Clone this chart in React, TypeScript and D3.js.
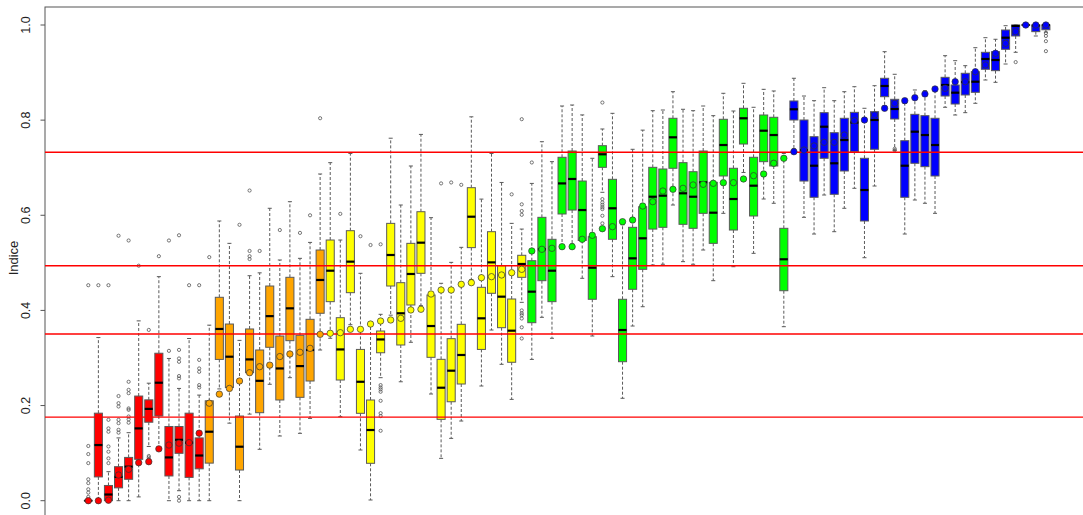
import React from "react";
import * as d3 from "d3";

// ---- data ----
const whiskerLow = [
  0, 0, 0, 0, 0, 0.008, 0.114, 0.11, 0, 0.021, 0, 0, 0, 0.235, 0.163, 0, 0.182, 0.108, 0.2447, 0.136,
  0.2586, 0.1416, 0.173, 0.3168, 0.3414, 0.1766, 0.37, 0.1066, 0.0015, 0.2586, 0.39, 0.25, 0.333, 0.41, 0.2243, 0.089, 0.131, 0.1675, 0.465, 0.2411,
  0.3588, 0.2867, 0.213, 0.417, 0.297, 0.3855, 0.3414, 0.53, 0.54, 0.4675, 0.3462, 0.6483, 0.471, 0.2153, 0.3672, 0.4078, 0.4955, 0.497, 0.6216, 0.5025,
  0.497, 0.527, 0.4625, 0.6041, 0.4919, 0.69, 0.52, 0.6342, 0.6252, 0.3658, 0.74, 0.5957, 0.5606, 0.6426, 0.5655, 0.6147, 0.6567, 0.5108, 0.6615, 0.83,
  0.7358, 0.5606, 0.6321, 0.6252, 0.6041, 0.827, 0.8108, 0.8157, 0.8354, 0.8844, 0.8795, 0.918, 0.9426, 1, 0.9769, 0.985,
];
const q1 = [
  0, 0.05, 0, 0.027, 0.045, 0.087, 0.165, 0.178, 0.052, 0.0996, 0.049, 0.067, 0.079, 0.297, 0.238, 0.0645, 0.269, 0.185, 0.3225, 0.2117,
  0.3364, 0.2173, 0.2516, 0.394, 0.4184, 0.2537, 0.4373, 0.1837, 0.0786, 0.311, 0.4513, 0.3273, 0.4114, 0.478, 0.3014, 0.171, 0.208, 0.2453, 0.532, 0.318,
  0.436, 0.3637, 0.291, 0.4696, 0.3742, 0.4625, 0.4184, 0.6027, 0.611, 0.547, 0.4234, 0.7008, 0.5495, 0.2922, 0.4444, 0.4864, 0.571, 0.5747, 0.6988, 0.581,
  0.5726, 0.6041, 0.541, 0.6826, 0.569, 0.7498, 0.5985, 0.7127, 0.7036, 0.4414, 0.8003, 0.672, 0.6378, 0.7198, 0.6441, 0.6931, 0.7337, 0.588, 0.7387, 0.8493,
  0.8024, 0.6378, 0.7093, 0.7022, 0.6826, 0.8507, 0.8339, 0.8529, 0.8585, 0.9069, 0.904, 0.9489, 0.9769, 1, 0.986, 0.99,
];
const median = [
  0, 0.117, 0.013, 0.05, 0.0715, 0.152, 0.193, 0.248, 0.091, 0.128, 0.122, 0.095, 0.145, 0.361, 0.3027, 0.1135, 0.297, 0.252, 0.388, 0.278,
  0.4044, 0.283, 0.3168, 0.464, 0.4835, 0.318, 0.5025, 0.25, 0.1486, 0.339, 0.5165, 0.394, 0.4766, 0.5424, 0.3672, 0.2375, 0.2733, 0.3063, 0.597, 0.3834,
  0.501, 0.4289, 0.3574, 0.4976, 0.4394, 0.5285, 0.4835, 0.667, 0.6763, 0.611, 0.4898, 0.7282, 0.6147, 0.3588, 0.5095, 0.5516, 0.639, 0.6412, 0.7639, 0.6462,
  0.639, 0.6693, 0.6054, 0.7477, 0.6342, 0.8039, 0.6622, 0.7778, 0.7687, 0.5075, 0.8228, 0.737, 0.7042, 0.7862, 0.7093, 0.7582, 0.795, 0.6531, 0.8003, 0.8718,
  0.8234, 0.7042, 0.7757, 0.7687, 0.7477, 0.8739, 0.8577, 0.88, 0.8808, 0.9285, 0.9264, 0.9733, 0.998, 1, 0.999, 1,
];
const q3 = [
  0, 0.184, 0.032, 0.0715, 0.091, 0.22, 0.212, 0.31, 0.156, 0.156, 0.184, 0.132, 0.21, 0.4276, 0.3714, 0.178, 0.361, 0.3168, 0.4513, 0.3462,
  0.4696, 0.3477, 0.3813, 0.527, 0.548, 0.3847, 0.5676, 0.318, 0.2117, 0.3567, 0.583, 0.4583, 0.541, 0.6075, 0.4324, 0.2972, 0.3406, 0.3708, 0.658, 0.4486,
  0.5655, 0.494, 0.424, 0.5159, 0.5045, 0.5957, 0.5495, 0.7219, 0.7351, 0.672, 0.555, 0.7463, 0.6756, 0.4234, 0.5747, 0.618, 0.7008, 0.6973, 0.8039, 0.7106,
  0.6916, 0.7351, 0.6693, 0.8018, 0.6988, 0.8249, 0.7219, 0.8108, 0.806, 0.5726, 0.8403, 0.8003, 0.7652, 0.8157, 0.7736, 0.8039, 0.8164, 0.7198, 0.8178, 0.888,
  0.8438, 0.7568, 0.8122, 0.8094, 0.8039, 0.89, 0.8739, 0.8985, 0.9018, 0.9426, 0.9439, 0.9895, 1, 1, 1, 1,
];
const whiskerHigh = [
  0, 0.343, 0.061, 0.132, 0.143, 0.378, 0.247, 0.471, 0.299, 0.236, 0.341, 0.222, 0.369, 0.588, 0.541, 0.337, 0.473, 0.479, 0.6147, 0.506,
  0.6286, 0.5095, 0.543, 0.6868, 0.7106, 0.548, 0.73, 0.478, 0.37, 0.3918, 0.762, 0.6216, 0.7036, 0.77, 0.595, 0.457, 0.501, 0.5326, 0.807, 0.634,
  0.73, 0.669, 0.583, 0.571, 0.667, 0.7547, 0.7127, 0.8297, 0.8318, 0.811, 0.7198, 0.7814, 0.8143, 0.58, 0.7387, 0.779, 0.8199, 0.8213, 0.8598, 0.8228,
  0.8199, 0.8297, 0.8094, 0.8564, 0.8192, 0.8774, 0.827, 0.8648, 0.8613, 0.73, 0.888, 0.8507, 0.8409, 0.8682, 0.8409, 0.8598, 0.8703, 0.8249, 0.8724, 0.9439,
  0.8964, 0.835, 0.8634, 0.862, 0.86, 0.9355, 0.925, 0.9145, 0.9523, 0.9733, 0.97, 0.9985, 1, 1, 1, 1,
];
// index value of each unit (the sorted dots)
const indexValues = [
  0, 0, 0.001, 0.054, 0.066, 0.08, 0.082, 0.109, 0.117, 0.121, 0.122, 0.142, 0.205, 0.224, 0.236, 0.2516, 0.269, 0.2817, 0.285, 0.303,
  0.3084, 0.312, 0.3203, 0.3497, 0.3519, 0.3532, 0.3603, 0.3603, 0.3714, 0.3777, 0.3799, 0.3834, 0.401, 0.4024, 0.4345, 0.4429, 0.4429, 0.4549, 0.4583, 0.4688,
  0.4709, 0.4745, 0.4793, 0.4864, 0.525, 0.5285, 0.5306, 0.534, 0.534, 0.5495, 0.5579, 0.5718, 0.576, 0.5865, 0.59, 0.6195, 0.6286, 0.651, 0.6546, 0.6567,
  0.6637, 0.6651, 0.6672, 0.6685, 0.6685, 0.6763, 0.6832, 0.6868, 0.7093, 0.7198, 0.7337, 0.7372, 0.7457, 0.7534, 0.7534, 0.7687, 0.7989, 0.8003, 0.8108, 0.8249,
  0.8354, 0.8409, 0.8472, 0.855, 0.8655, 0.867, 0.8808, 0.8808, 0.9018, 0.916, 0.9405, 0.9615, 0.986, 1, 1, 1,
];
const outlierList: number[][] = [
  [0.453, 0.115, 0.098, 0.079, 0.045, 0.037, 0.024, 0.017, 0.008],
  [0.453],
  [0.453, 0.17, 0.152, 0.145, 0.114, 0.103, 0.089, 0.079],
  [0.557, 0.22, 0.205, 0.198, 0.17, 0.163, 0.149, 0.143],
  [0.547, 0.25, 0.233, 0.226, 0.194, 0.191, 0.177, 0.171, 0.164],
  [0.494],
  [0.359, 0.094, 0.091, 0.087],
  [0.514],
  [0.547, 0.315],
  [0.558, 0.317, 0.299, 0.292, 0.262, 0.257, 0.008, 0.0],
  [0.453],
  [0.453, 0.296, 0.278, 0.271, 0.243, 0.238],
  [0.512],
  [], [],
  [0.58],
  [0.652, 0.525, 0.514, 0.508],
  [0.525],
  [],
  [0.569],
  [],
  [0.563],
  [0.6],
  [0.804],
  [],
  [0.603],
  [],
  [0.556],
  [0.5375],
  [0.539, 0.243, 0.238, 0.234, 0.229, 0.21, 0.184, 0.178, 0.147],
  [], [], [], [], [],
  [0.667],
  [0.669],
  [0.664],
  [], [], [], [],
  [0.644],
  [0.802, 0.623, 0.609, 0.601, 0.4, 0.394, 0.39, 0.383, 0.3645, 0.341],
  [0.711],
  [], [], [], [], [], [],
  [0.837, 0.634, 0.627, 0.622, 0.617, 0.613, 0.599, 0.583],
  [], [], [], [], [], [], [], [], [], [], [], [], [], [], [], [], [], [], [], [], [], [], [], [], [], [], [], [],
  [0.74, 0.737],
  [], [], [], [], [], [], [], [], [], [], [],
  [0.922],
  [], [],
  [0.983, 0.977, 0.966, 0.945],
];
const thresholds = [0.1756, 0.3504, 0.494, 0.7325];
const classColors = ["#FF0000", "#FFA500", "#FFFF00", "#00FF00", "#0000FF"];
const yTicks = [0, 0.2, 0.4, 0.6, 0.8, 1.0];
const yLabel = "Indice";

const W = 1083;
const H = 515;

export default function App() {
  const n = indexValues.length;
  const x = d3.scaleLinear().domain([1, n]).range([88.3, 88.3 + (n - 1) * 10.08]);
  const y = d3.scaleLinear().domain([0, 1]).range([500.7, 25]);
  const color = d3.scaleThreshold<number, string>().domain(thresholds).range(classColors);
  const left = 45;
  const top = 7;
  const bw = 8.06;
  const cap = bw / 4;
  const border = "#5a5a5a";
  const font = "'Liberation Sans', Arial, Helvetica, sans-serif";

  return (
    <svg width={W} height={H} style={{ position: "absolute", left: 0, top: 0, background: "#fff" }} fontFamily={font}>
      {/* frame */}
      <rect x={left} y={top} width={1090 - left} height={519 - top} fill="none" stroke="#555" strokeWidth={1} />
      {/* y axis */}
      {yTicks.map((t) => (
        <g key={t}>
          <line x1={left - 4.5} x2={left} y1={y(t)} y2={y(t)} stroke="#555" />
          <text transform={`translate(30,${y(t)}) rotate(-90)`} textAnchor="middle" fontSize={12.5} fill="#222">
            {t.toFixed(1)}
          </text>
        </g>
      ))}
      <text transform={`translate(17.5,258) rotate(-90)`} textAnchor="middle" fontSize={13} fill="#222">
        {yLabel}
      </text>
      {/* boxes */}
      {indexValues.map((v, i) => {
        const cx = x(i + 1);
        const c = color(v);
        return (
          <g key={i}>
            <line x1={cx} x2={cx} y1={y(q3[i])} y2={y(whiskerHigh[i])} stroke={border} strokeDasharray="3,2" />
            <line x1={cx} x2={cx} y1={y(q1[i])} y2={y(whiskerLow[i])} stroke={border} strokeDasharray="3,2" />
            <line x1={cx - cap} x2={cx + cap} y1={y(whiskerHigh[i])} y2={y(whiskerHigh[i])} stroke={border} />
            <line x1={cx - cap} x2={cx + cap} y1={y(whiskerLow[i])} y2={y(whiskerLow[i])} stroke={border} />
            <rect
              x={cx - bw / 2}
              y={y(q3[i])}
              width={bw}
              height={Math.max(0.01, y(q1[i]) - y(q3[i]))}
              fill={c}
              stroke={border}
              strokeWidth={1}
            />
            <line x1={cx - bw / 2} x2={cx + bw / 2} y1={y(median[i])} y2={y(median[i])} stroke="#000" strokeWidth={2.2} />
            {outlierList[i].map((o, k) => (
              <circle key={k} cx={cx} cy={y(o)} r={1.6} fill="none" stroke="#555" strokeWidth={0.8} />
            ))}
          </g>
        );
      })}
      {/* threshold lines */}
      {thresholds.map((t) => (
        <line key={t} x1={left} x2={W} y1={y(t)} y2={y(t)} stroke="#FF0000" strokeWidth={1.4} />
      ))}
      {/* index dots */}
      {indexValues.map((v, i) => (
        <circle key={i} cx={x(i + 1)} cy={y(v)} r={3.2} fill={color(v)} stroke="#333" strokeWidth={0.7} />
      ))}
    </svg>
  );
}
